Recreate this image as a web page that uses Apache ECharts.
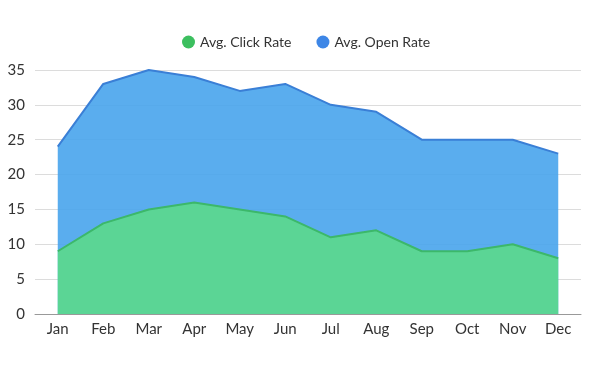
<!DOCTYPE html>
<html>
<head>
<meta charset="utf-8">
<script src="https://cdn.jsdelivr.net/npm/echarts@6/dist/echarts.min.js"></script>
<style>html,body{margin:0;padding:0;background:#fff;}#c{width:591px;height:369px;}</style>
</head>
<body>
<div id="c"></div>
<script>
const months = ['Jan','Feb','Mar','Apr','May','Jun','Jul','Aug','Sep','Oct','Nov','Dec'];
const clickRate = [9, 13, 15, 16, 15, 14, 11, 12, 9, 9, 10, 8];
const openRate = [24, 33, 35, 34, 32, 33, 30, 29, 25, 25, 25, 23];
const seriesNames = ['Avg. Click Rate', 'Avg. Open Rate'];

const FONT = 'Lato';
const chart = echarts.init(document.getElementById('c'));
chart.setOption({
  animation: false,
  textStyle: { fontFamily: FONT },
  legend: {
    data: seriesNames,
    top: 30,
    left: 177,
    icon: 'circle',
    itemWidth: 13,
    itemHeight: 13,
    itemGap: 25,
    textStyle: { fontSize: 14, color: '#333', fontFamily: FONT }
  },
  grid: { left: 35, right: 10, top: 70, bottom: 55 },
  xAxis: {
    type: 'category',
    data: months,
    boundaryGap: true,
    axisLine: { lineStyle: { color: '#999', width: 1 } },
    axisTick: { show: false },
    axisLabel: { fontSize: 15, color: '#333', margin: 8, fontFamily: FONT }
  },
  yAxis: {
    type: 'value',
    min: 0,
    max: 35,
    interval: 5,
    axisLine: { show: false },
    axisTick: { show: false },
    splitLine: { lineStyle: { color: '#dcdcdc' } },
    axisLabel: { fontSize: 15, color: '#333', margin: 10, fontFamily: FONT }
  },
  series: [
    {
      name: seriesNames[1],
      type: 'line',
      data: openRate,
      symbol: 'none',
      color: '#3d86e6',
      lineStyle: { color: '#3a7fd6', width: 2 },
      areaStyle: { color: 'rgb(72,164,236)', opacity: 0.9 }
    },
    {
      name: seriesNames[0],
      type: 'line',
      data: clickRate,
      symbol: 'none',
      color: '#3cbf5f',
      lineStyle: { color: '#3cb86a', width: 2 },
      areaStyle: { color: 'rgb(92,217,140)', opacity: 0.9 }
    }
  ]
});
</script>
</body>
</html>
